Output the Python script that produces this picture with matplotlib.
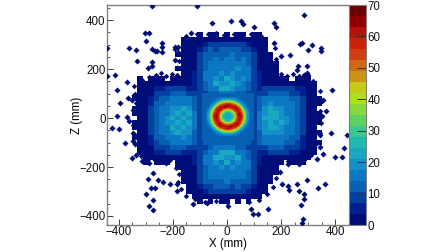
import numpy as np
import matplotlib
matplotlib.use("Agg")
import matplotlib.pyplot as plt
from matplotlib.colors import ListedColormap, BoundaryNorm
from matplotlib.ticker import MultipleLocator

plt.rcParams['font.family'] = ['Liberation Sans', 'DejaVu Sans']

# palette, bottom to top
palette = ['#000c78', '#002090', '#0440a0', '#0860b4', '#0c78c4', '#1490c8', '#18a8c0',
           '#20b8b0', '#38c890', '#60d060', '#88d840', '#b0dc28', '#c8c818', '#cc9414',
           '#d06810', '#cc4010', '#cc2008', '#b81008', '#900000', '#6e0000']
cbar_ticks = [0, 10, 20, 30, 40, 50, 60, 70]

# counts per cell, 20 mm cells, x -340..340, z 340..-340
grid_x = np.arange(-340, 341, 20)
grid_z = np.arange(340, -341, -20)
counts = [
    [0,0,0,0,0,0,0,0,0,0,0,0,2,0,2,2,0,2,0,2,2,0,2,2,0,0,0,0,0,0,0,0,0,0,0],
    [0,0,0,0,0,0,0,0,0,2,2,2,2,2,3,3,2,3,3,2,3,2,2,2,2,0,0,0,0,0,0,0,0,0,0],
    [0,0,0,0,0,0,0,0,0,2,2,2,3,5,7,7,8,8,7,8,7,5,3,2,2,0,0,0,0,0,0,0,0,0,0],
    [0,0,0,0,0,0,0,0,0,2,2,2,5,9,11,10,12,11,12,11,10,9,5,2,2,0,0,0,0,0,0,0,0,0,0],
    [0,0,0,0,0,0,0,0,2,2,2,3,8,11,12,12,13,12,14,13,12,11,8,3,2,2,0,0,0,0,0,0,0,0,0],
    [0,0,0,0,0,0,0,0,0,2,2,3,9,12,13,15,13,15,14,13,15,12,9,3,2,2,0,0,0,0,0,0,0,0,0],
    [0,0,0,0,0,0,0,0,0,2,2,3,10,13,15,14,16,15,16,14,15,13,10,3,2,2,2,0,0,0,0,0,0,0,0],
    [0,0,0,0,0,0,0,0,2,2,2,3,10,13,14,17,15,17,15,18,14,14,10,3,2,2,2,0,0,0,0,0,0,0,0],
    [0,0,0,0,0,0,0,0,0,2,2,4,10,14,16,16,19,16,19,17,16,14,10,4,2,2,2,0,0,0,0,0,0,0,0],
    [0,2,0,2,2,2,0,2,2,2,2,4,10,14,17,18,16,21,18,17,18,14,10,4,2,2,2,2,2,0,2,2,2,0,0],
    [0,2,2,2,2,3,3,3,3,2,2,4,10,13,16,21,19,18,22,19,16,13,10,4,2,3,3,3,3,2,2,2,2,2,0],
    [0,2,2,3,5,5,7,7,7,7,5,4,9,12,15,17,21,23,19,17,14,12,9,4,7,8,8,8,8,7,6,5,3,2,0],
    [0,2,2,3,8,9,10,11,11,11,10,7,8,10,12,13,14,15,14,13,12,10,8,7,10,11,12,12,11,10,9,6,3,2,0],
    [2,2,2,5,10,12,13,14,14,15,14,11,9,12,13,13,13,13,13,13,13,12,9,11,15,15,15,14,14,12,11,7,3,2,2],
    [0,2,3,6,11,13,15,16,17,16,17,12,9,13,13,14,13,14,13,14,13,13,9,12,17,18,16,17,16,14,11,7,3,2,2],
    [2,2,3,7,11,14,16,19,18,21,18,13,10,13,13,13,13,13,13,13,13,13,10,13,19,21,20,18,17,14,12,8,3,2,0],
    [2,2,3,8,12,14,17,18,22,19,21,14,10,13,13,13,13,13,13,13,13,13,10,14,20,23,21,19,17,15,12,8,3,2,2],
    [0,2,3,8,12,15,18,21,20,23,20,14,10,13,13,13,13,13,13,13,13,13,10,14,21,22,24,20,18,15,13,8,3,2,2],
    [2,2,3,8,12,15,18,19,23,20,22,14,10,13,13,13,13,13,13,13,13,13,10,14,20,23,20,22,18,15,12,8,3,2,2],
    [2,2,3,7,12,14,17,21,20,24,20,14,10,13,13,13,13,13,13,13,13,13,10,14,19,21,23,19,17,15,12,8,3,2,0],
    [0,2,3,7,11,14,16,18,22,20,18,13,10,13,13,13,13,13,13,13,13,13,10,13,18,20,19,18,17,14,11,7,3,2,2],
    [2,2,3,6,11,13,15,17,17,18,17,12,9,13,13,14,13,13,13,14,13,13,9,12,16,17,17,16,15,13,11,6,3,2,0],
    [0,2,2,5,10,12,13,14,15,14,14,11,8,12,13,13,13,13,13,13,13,12,8,11,14,15,14,14,13,12,10,6,3,2,2],
    [0,2,2,3,8,9,10,11,11,11,10,7,7,10,12,14,14,15,14,13,12,10,7,7,10,11,11,11,10,9,8,5,2,2,0],
    [0,2,2,3,5,5,7,7,7,5,5,4,9,12,16,17,21,22,21,17,15,12,9,4,5,7,7,7,7,5,5,3,2,2,0],
    [0,0,2,2,2,3,3,3,3,2,2,4,10,14,17,21,22,19,18,21,16,13,10,4,2,3,3,3,3,2,2,2,2,0,0],
    [0,0,2,0,2,2,2,0,2,2,2,4,10,14,17,19,17,21,17,18,17,14,10,4,2,2,2,2,0,2,2,2,0,0,0],
    [0,0,0,0,0,0,0,0,2,2,2,3,10,13,15,17,18,16,18,16,15,14,10,3,2,2,2,0,0,0,0,0,0,0,0],
    [0,0,0,0,0,0,0,0,0,2,2,3,10,13,16,15,16,17,15,16,15,13,10,3,2,2,2,0,0,0,0,0,0,0,0],
    [0,0,0,0,0,0,0,0,0,2,2,3,9,12,14,15,14,15,14,15,14,12,9,3,2,2,0,0,0,0,0,0,0,0,0],
    [0,0,0,0,0,0,0,0,0,2,2,3,8,11,13,13,12,14,13,12,12,11,8,3,2,2,0,0,0,0,0,0,0,0,0],
    [0,0,0,0,0,0,0,0,0,0,2,2,6,9,10,11,11,11,10,11,10,9,6,2,2,0,0,0,0,0,0,0,0,0,0],
    [0,0,0,0,0,0,0,0,0,0,2,2,3,5,7,7,8,7,8,7,7,5,3,2,2,0,0,0,0,0,0,0,0,0,0],
    [0,0,0,0,0,0,0,0,0,0,0,2,2,2,3,3,2,3,3,2,3,2,2,2,0,0,0,0,0,0,0,0,0,0,0],
    [0,0,0,0,0,0,0,0,0,0,0,0,2,0,2,0,2,2,0,2,0,2,0,0,0,0,0,0,0,0,0,0,0,0,0],
]

# ring in the middle, 10 mm cells, x -90..90, z 90..-90
ring_x = np.arange(-90, 91, 10)
ring_z = np.arange(90, -91, -10)
ring = [
    [13,13,13,13,13,13,13,13,13,13,13,13,13,13,13,13,13,13,13],
    [13,13,13,13,13,13,13,13,14,14,14,13,13,13,13,13,13,13,13],
    [13,13,13,13,13,15,17,20,22,22,22,20,17,14,13,13,13,13,13],
    [13,13,13,13,15,20,28,36,40,42,40,36,28,20,15,13,13,13,13],
    [13,13,13,15,21,34,46,52,58,60,58,52,46,34,21,15,13,13,13],
    [13,13,14,20,34,50,60,61,66,62,62,61,60,50,34,20,14,13,13],
    [13,13,17,28,46,60,63,57,51,48,51,57,62,60,46,28,17,13,13],
    [13,14,20,36,52,61,57,44,32,28,32,44,57,61,52,36,20,14,13],
    [13,14,22,40,58,62,51,32,25,23,25,32,51,66,58,40,22,14,13],
    [13,14,22,42,60,66,48,28,23,22,23,28,48,62,60,42,22,14,13],
    [13,14,22,40,58,62,51,32,25,23,25,32,51,62,58,40,22,14,13],
    [13,14,20,36,52,61,57,44,32,28,32,44,57,61,52,36,20,14,13],
    [13,13,17,28,46,60,66,57,51,48,51,57,62,60,46,28,17,13,13],
    [13,13,14,20,34,50,60,62,60,62,66,61,60,50,34,20,14,13,13],
    [13,13,13,15,21,34,46,52,58,60,58,52,46,34,21,15,13,13,13],
    [13,13,13,13,15,20,28,36,40,42,40,36,28,20,15,13,13,13,13],
    [13,13,13,13,13,15,17,20,22,22,22,20,17,14,13,13,13,13,13],
    [13,13,13,13,13,13,13,13,14,14,14,13,13,13,13,13,13,13,13],
    [13,13,13,13,13,13,13,13,13,13,13,13,13,13,13,13,13,13,13],
]

# stray cells
stray_x = [-278,-111,-55,-133,-304,-290,-300,-241,-241,-241,-259,-278,-267,-193,-181,-193,-363,-337,-444,-333,
           -278,-278,-293,-193,-185,-444,-415,-370,-407,-367,-352,-396,-344,-348,-407,-370,-363,-426,-400,-348,
           -378,-348,-341,-352,-337,-315,-293,-289,-244,-226,-274,-293,-256,-237,-211,-281,-267,-300,-274,-289,
           -274,-185,-185,-126,-74,285,52,59,15,100,174,181,174,278,270,315,300,348,348,233,200,263,259,296,296,
           285,389,355,367,352,385,444,344,433,344,400,426,333,355,226,267,181,196,296,363,337,204,259,226,230,
           267,285,285,274,152,89,96,115,4,281,278]
stray_z = [458,458,387,347,347,347,315,306,290,270,273,282,273,290,290,282,286,278,286,233,
           229,212,204,237,204,171,176,147,114,82,73,61,94,33,8,4,-12,-41,-45,-61,
           -102,-94,-106,-163,-151,-176,-167,-184,-176,-184,-224,-249,-253,-261,-269,-286,-286,-310,-335,-359,
           -376,-269,-298,-351,-347,420,396,384,396,371,388,371,306,306,302,298,278,286,273,257,253,212,196,212,184,
           176,114,73,29,8,-61,-69,-69,-122,-118,-159,-159,-167,-147,-188,-188,-192,-220,-253,-269,-286,-269,-269,-278,-294,
           -298,-310,-331,-355,-371,-371,-392,-392,-359,-412,-429]

# cells sticking out of the cross outline
edge_x = [-150,-110,-70,-40,-10,25,60,90,125,-180,-178,-184,-186,-205,-225,-245,-262,-290,-315,-345,-342,-338,-344,-346,-340,
          178,182,176,200,222,245,268,300,320,345,350,344,348,345,
          -320,-300,-270,-240,-210,-190,-178,-182,-170,-150,-120,-80,-40,0,40,80,120,150,172,180,178,200,225,255,285,310,335]
edge_z = [335,345,342,348,340,342,338,345,335,270,235,205,175,180,172,183,176,168,155,130,100,60,20,-30,-70,
          285,240,215,178,172,182,170,175,150,110,70,30,-20,-60,
          -155,-172,-168,-175,-172,-205,-230,-260,-290,-318,-330,-342,-338,-345,-340,-345,-335,-310,-280,-245,-205,-170,-175,-168,-172,-150,-100]

fig = plt.figure(figsize=(4.48, 2.52), dpi=100)
ax = fig.add_axes([107/448, 1-225/252, 241/448, 220/252])
cax = fig.add_axes([348.5/448, 1-225/252, 17/448, 220/252])

cmap = ListedColormap(palette)
cmap.set_under((1, 1, 1, 0))
levels = np.linspace(0, 70, 21)
norm = BoundaryNorm(levels, cmap.N, clip=False)

a = np.array(counts, dtype=float)
a[a == 0] = -3
ax.imshow(a, cmap=cmap, norm=norm, interpolation='nearest',
          extent=[grid_x[0]-10, grid_x[-1]+10, grid_z[-1]-10, grid_z[0]+10], aspect='auto', zorder=1)
ax.imshow(np.array(ring, dtype=float), cmap=cmap, norm=norm, interpolation='bilinear', interpolation_stage='data',
          extent=[ring_x[0]-5+3, ring_x[-1]+5+3, ring_z[-1]-5+4, ring_z[0]+5+4], aspect='auto', zorder=2)
ax.plot(stray_x, stray_z, ls='none', marker='D', ms=3.1, color=palette[0], mew=0, zorder=3)
ax.plot(edge_x, edge_z, ls='none', marker='D', ms=2.8, color=palette[0], mew=0, zorder=0.5)

ax.set_xlim(-444, 448)
ax.set_ylim(-437, 462)
ax.set_xlabel('X (mm)', fontsize=8.3)
ax.set_ylabel('Z (mm)', fontsize=8.3, labelpad=-2.5)
ax.xaxis.set_label_coords(0.5, -13/220)
ax.xaxis.set_major_locator(MultipleLocator(200))
ax.yaxis.set_major_locator(MultipleLocator(200))
ax.xaxis.set_minor_locator(MultipleLocator(50))
ax.yaxis.set_minor_locator(MultipleLocator(50))
ax.tick_params(which='major', direction='in', length=4.5, width=0.7, color='#404040', labelsize=8.3, pad=1)
ax.tick_params(which='minor', direction='in', length=2.3, width=0.6, color='#404040')
ax.tick_params(axis='both', labelcolor='#111111')
ax.xaxis.set_major_formatter(lambda v, p: f'{int(v)}'.replace('-', '\u2212'))
ax.yaxis.set_major_formatter(lambda v, p: f'{int(v)}'.replace('-', '\u2212'))
for s in ax.spines.values():
    s.set_color('#808080')
    s.set_linewidth(1.0)
ax.spines['right'].set_visible(False)

cb = fig.colorbar(plt.cm.ScalarMappable(norm=norm, cmap=cmap), cax=cax, ticks=cbar_ticks, spacing='proportional')
cb.ax.tick_params(direction='in', length=6.5, width=0.7, color='#303030', labelsize=8.3, pad=1.5, labelcolor='#111111')
cb.ax.minorticks_off()
cb.outline.set_edgecolor('#808080')
cb.outline.set_linewidth(0.8)

fig.savefig('out.png', dpi=100)
